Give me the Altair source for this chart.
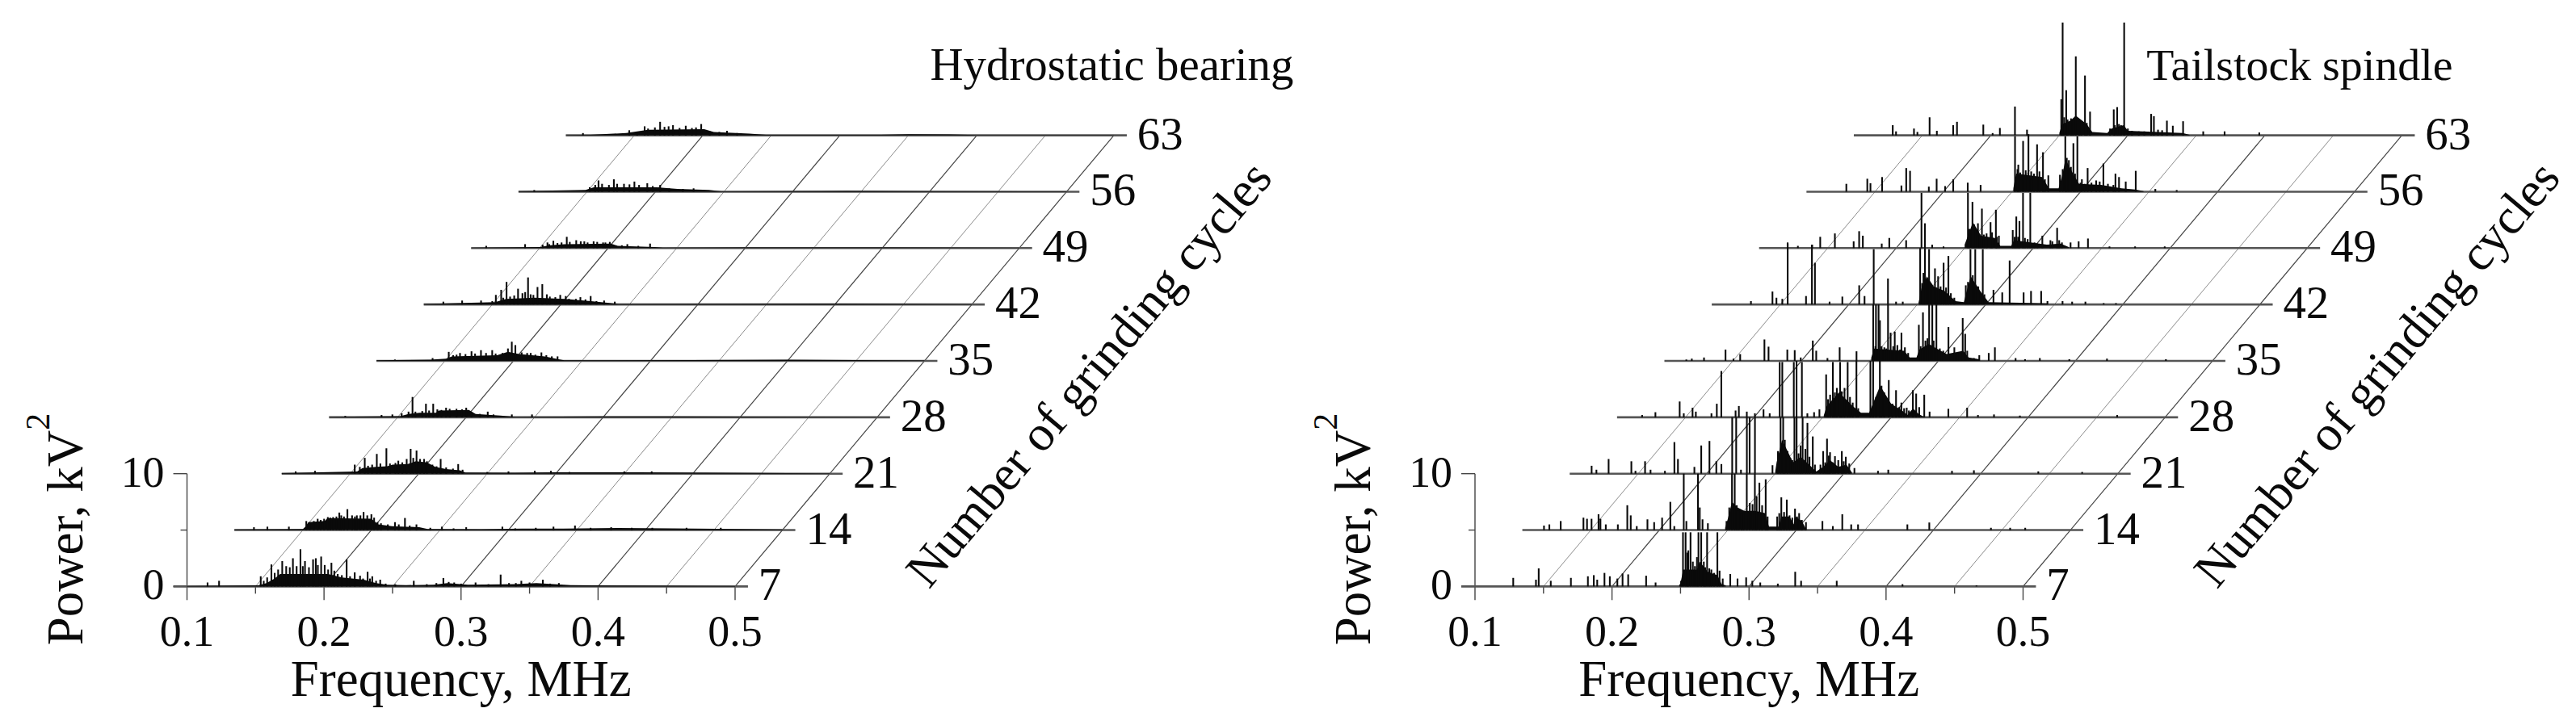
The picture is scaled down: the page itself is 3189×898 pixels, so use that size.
import altair as alt
import pandas as pd

CYCLES = [7, 14, 21, 28, 35, 42, 49, 56, 63]
F_TICKS = [0.1, 0.2, 0.3, 0.4, 0.5]
F_GRID = [0.15, 0.2, 0.25, 0.3, 0.35, 0.4, 0.45, 0.5]
P_TICKS = [0, 10]

# ---- Hydrostatic bearing: spikes (kHz, kV^2) per cycle ----
H_SPIKES = {
7: [(115,.35),(123.4,.5),(153.8,.9),(161.6,1.95),(169.5,2.25),(172.4,1.8),(177.3,2.5),(182.8,3.3),(186.1,2.25),(192,2.4),(194,2.5),(197.9,2.65),(200.5,1.9),(205.4,2.1),(216.5,2.4),(222.4,1.25),(226.3,.95),(231.8,1.3),(235.2,.9),(241,.6),(265.5,.5),(287.1,.75),(291,.4),(310.6,.35),(328.9,1.05),(344,.5),(359.7,.6),(371.4,.3)],
14: [(114.3,.25),(124.1,.3),(139.8,.3),(152.5,.8),(160.8,1),(168.2,1.15),(172.1,1.15),(176.6,1.55),(182.5,1.85),(185.9,1.3),(189.4,1.3),(194.3,1.6),(200,1.4),(204.5,.7),(217.2,.7),(224.5,1.07),(232.9,.5),(251.5,.3),(269.2,.25),(295.6,.3),(332.9,.3),(348.6,.4)],
21: [(110.2,.2),(124.3,.25),(153.3,.8),(160.6,1.4),(169.4,1.75),(176.4,2.25),(185.1,1.15),(191.2,1.3),(194.1,2.2),(198.4,2.05),(203.9,1.3),(216,1.3),(228.8,.85),(265.5,.2),(284.7,.25),(296.5,.25)],
28: [(111.8,.12),(138.3,.2),(146.2,.25),(153,.35),(160.9,1.8),(170.7,1.2),(176,1.2),(185.4,.85),(200.1,.85),(215.8,.5),(233.4,.25),(248.1,.25)],
35: [(113.5,.12),(141,.25),(152.8,.8),(161,.7),(169.4,.85),(176.3,.95),(184.5,.95),(198.8,1.7),(201.4,1.4),(212.6,.7),(220.4,.75),(232.2,.4)],
42: [(114.3,.25),(128,.35),(141.8,.35),(152.6,.85),(156.5,1.3),(160.4,2),(168.8,1.4),(176.1,2.4),(183,1.55),(186.5,1.8),(189.8,.9),(199.6,.85),(203.6,.75),(214.3,.65),(221.8,.75),(231.6,.35),(239.4,.25)],
49: [(111,.2),(139.4,.35),(152.2,.3),(155.7,.5),(160,.65),(169.8,1),(176.7,.7),(182.6,.6),(189.4,.6),(196.3,.5),(201.2,.55),(214,.35),(230.6,.4)],
56: [(111.5,.15),(158.4,1),(169.6,1.1),(184.6,.9),(194,.75),(203.4,.6),(227.8,.3)],
63: [(112.5,.2),(146.3,.45),(157.5,.8),(168.8,1.2),(178.2,.9),(187.5,.85),(198.8,1),(217.6,.4)],
}
# ---- Hydrostatic bearing: lower comb between the main spikes ----
H_COMB = {
7: [(156,.5),(158.5,.8),(164,1.2),(166.5,1.5),(175,1.7),(180,1.8),(184.5,1.8),(189,1.7),(195.5,1.9),(203,1.5),(207.5,1.4),(210,1.1),(213,1.0),(219,.9),(228.5,.7),(233.5,.7),(238,.5),(245,.25),(252,.2),(275,.2),(282,.3),(295,.35),(300,.25),(320,.2),(335,.3),(340,.3),(350,.35),(365,.25)],
14: [(155,.7),(158,.8),(163,.9),(165.5,1.0),(170,1.1),(174.5,1.2),(178,1.3),(180,1.2),(188,1.2),(192,1.3),(197,1.3),(202,1.1),(207,.6),(212,.5),(220,.5),(228,.4),(243,.2),(260,.15),(305,.15),(320,.2),(360,.2),(375,.25),(390,.2),(405,.2),(430,.2),(455,.2)],
21: [(157,.6),(163,.7),(166,.8),(172,.9),(179,.9),(183,.95),(188,1),(196,1.4),(201,1.3),(206,1.1),(210,.8),(213,.65),(220,.55),(225,.45),(232,.35),(250,.15),(310,.15),(350,.2),(370,.2)],
28: [(158,.5),(163,.5),(168,.55),(173,.6),(179,.7),(182,.65),(188,.75),(193,.75),(197,.7),(204,.45),(210,.3),(220,.25)],
35: [(156,.5),(158.5,.55),(165,.6),(172,.65),(180,.7),(187,.65),(192,.7),(196,1.1),(206,.75),(210,.7),(216,.55),(224,.5),(228,.4)],
42: [(150,.3),(158,.6),(163,.7),(166,.8),(172,1.0),(174,1.1),(178,.9),(180,.85),(192,.7),(196,.65),(206,.5),(211,.5),(218,.45),(226,.3)],
49: [(157,.35),(163,.45),(166,.5),(172,.55),(180,.6),(185,.5),(192,.55),(198,.5),(210,.25),(222,.2)],
56: [(152,.4),(156,.6),(161,.7),(166,.6),(172,.7),(177,.7),(181,.65),(188,.6),(198,.5),(210,.3),(220,.25)],
63: [(152,.3),(160,.6),(165,.7),(172,.75),(175,.8),(183,.65),(192,.65),(195,.7),(205,.35),(212,.3),(225,.2)],
}
# ---- Hydrostatic bearing: dense envelope (kHz, kV^2) per cycle ----
H_BODY = {
7: [(100,.03),(152,.1),(158,.3),(164,.7),(168,1.1),(203,1.1),(213,.8),(229,.6),(238,.3),(246,.15),(260,.12),(280,.15),(290,.3),(305,.15),(340,.2),(355,.3),(380,.12),(420,.08),(500,.03)],
14: [(100,.05),(150,.1),(152,.3),(154,.7),(166,.8),(168,1.05),(200,1),(205,.5),(215,.35),(235,.25),(241,.1),(280,.08),(310,.12),(340,.12),(380,.18),(420,.15),(470,.1),(500,.05)],
21: [(100,.05),(155,.2),(159,.5),(169,.6),(177,.65),(181,.8),(192,.85),(198,1.1),(206,1),(212,.6),(220,.4),(230,.3),(234,.1),(270,.08),(300,.12),(360,.12),(420,.08),(500,.03)],
28: [(100,.04),(152,.1),(158,.3),(166,.4),(178,.4),(180,.6),(202,.65),(207,.3),(225,.15),(236,.05),(300,.08),(350,.08),(500,.03)],
35: [(100,.05),(139,.1),(151,.2),(155,.4),(188,.5),(196,.8),(204,.6),(223,.4),(233,.15),(237,.05),(330,.08),(400,.1),(500,.03)],
42: [(100,.05),(152,.2),(160,.5),(181,.6),(203,.5),(222,.3),(234,.15),(242,.05),(330,.06),(400,.08),(500,.03)],
49: [(100,.03),(150,.1),(158,.25),(168,.35),(202,.4),(207,.2),(234,.1),(240,.03),(300,.05),(400,.06),(500,.03)],
56: [(100,.05),(149,.15),(155,.4),(201,.4),(216,.25),(239,.15),(248,.03),(280,.05),(340,.08),(400,.06),(500,.03)],
63: [(100,.03),(118,.05),(144,.2),(160,.5),(201,.55),(208,.3),(234,.15),(246,.05),(330,.05),(350,.1),(380,.08),(400,.03),(500,.02)],
}

# ---- Tailstock spindle: spikes (kHz, kV^2) per cycle ----
T_SPIKES = {
7: [(127.9,.76),(144.5,.6),(146.5,1.6),(155.3,.5),(170,.76),(182.4,.9),(186.7,1),(189.2,.6),(194.5,1.2),(198.4,.9),(203.9,.7),(207.7,1.15),(211.8,1.07),(224.9,.95),(231.8,.35),(250.4,.5),(251.8,4.8),(253.7,4.8),(257.3,4.8),(263.1,4.8),(265.1,4.8),(269.4,4.8),(276.9,4.8),(280.8,.7),(286.3,1.1),(291.6,.7),(297.9,.8),(302.4,.5),(308.2,.35),(321,.25),(333.7,1.3),(338,.5),(364,.5),(412,.2),(466,.1)],
14: [(115.8,.4),(119.7,.5),(128,.8),(144.6,1.1),(147.2,1),(150.5,1),(155.6,1.4),(157,1),(160.9,.5),(169.7,.5),(176.6,2.2),(179.1,1.3),(183.5,.35),(191.3,.95),(196.2,.7),(202,1.1),(208,2.5),(210.9,.35),(217.8,5),(219.7,.8),(228.2,5),(229.5,2),(231.5,.95),(235.4,.6),(249,.8),(253,5),(255,5),(263.8,5),(269.7,5),(273,4.2),(277.6,4.5),(286,1.2),(289,2.9),(293,2.7),(299,1.9),(302,1.5),(307,.7),(319,.8),(326.6,.35),(333.5,1.4),(340,.5),(345,.5),(381,.5),(397,.67),(442,.2),(456,.2),(467,.2)],
21: [(116,.7),(119.5,.35),(128.4,1.3),(145,1.1),(148,.25),(155,1.1),(159,.35),(169.5,.25),(176.4,2.8),(179,1.3),(191,.6),(196,2.5),(202,2.9),(207,1.1),(210.7,.85),(218.6,5),(221.5,5),(225,.35),(229.3,5),(231.3,5),(235.2,5),(248,.75),(253.9,5),(255.8,5),(264,5),(265.6,5),(270,5),(273.5,4.5),(277.4,3.3),(285,2),(287.8,3.1),(290,1.9),(293.6,1.55),(298.6,2),(301.5,1.5),(307.8,.5),(325,.25),(332.5,.35),(379,.25),(395,.3),(442,.2),(474,.15)],
28: [(118.3,.2),(128,.45),(145.7,1.4),(148.7,.35),(155.1,.85),(157.5,.5),(168.9,.35),(172.8,1.2),(176.1,4.1),(186.5,.6),(188.9,1),(194.7,.5),(200.6,.35),(206.9,.7),(211.4,.35),(218.7,4.9),(220.6,4.9),(229,4.9),(231,5),(234.9,4.9),(238.9,.35),(243.8,.45),(247.7,.7),(252.6,3.8),(257.5,4.9),(260.4,2.6),(262.8,4.9),(268.3,4.9),(274.7,5),(284.9,5),(286.9,5),(291.8,5),(298.3,3.3),(303.6,2.4),(307.5,1.3),(311.4,.85),(315.9,2.4),(318.3,2.1),(324.2,2),(328.1,.5),(341.8,.75),(355.5,.85),(363.4,.2),(375.1,.25),(394,.15),(465,.2)],
35: [(116,.12),(120,.2),(128.9,.3),(144.6,1),(150.4,.2),(155.3,.6),(173,1.9),(176,1.26),(189.7,1),(195.1,.95),(199.5,.3),(208.3,1.8),(210.8,.9),(219,.25),(227.9,1.2),(240.2,.85),(252.4,5),(254.4,5),(256.3,5),(257.3,3.6),(263.2,5),(265.1,2.5),(268.1,2.6),(273,2.5),(277.9,.7),(285.7,3.2),(288.7,4.3),(293.2,5),(295.5,5),(298.5,5),(307.3,3),(311.6,1.2),(317.7,3.8),(319.5,2.4),(325.9,.25),(329.8,.5),(336.7,.7),(341.2,1.2),(356.3,.25),(363.2,.15),(374,.25),(395.5,.15),(423,.2),(466,.15)],
42: [(128.6,.3),(144.3,1.15),(147.2,.6),(151.5,.5),(155.4,5.4),(168.8,.75),(173.1,5.3),(175.3,3.7),(186,.25),(195.3,.7),(207.6,1.7),(211.5,.75),(218.2,4.9),(228.6,2.3),(234.5,.25),(239.4,.25),(252.1,5),(255.6,5),(258.6,4.9),(262.9,3.2),(265.2,2.5),(269.2,3.7),(272.7,4.3),(277,.6),(285.4,1.7),(288.8,4.9),(292.3,4.9),(297.8,4.9),(305.6,1.3),(312,1.07),(317.4,3.9),(327.6,1.07),(333,1.2),(340.4,1.2),(345,.3),(356,.3),(363,.25),(372.7,.25),(386,.12),(395,.12)],
49: [(120.8,.5),(128.3,.2),(138.7,.3),(144.6,1),(155.3,1.3),(169,.6),(173,1.5),(175.7,1.1),(189.5,.4),(195,.9),(207.3,.7),(218.5,4.9),(221,2.2),(226.3,.3),(234.6,.15),(252.4,4.9),(255.7,4.1),(259.7,2.2),(262.6,3.5),(268.9,2.3),(272.8,3.4),(275,1.1),(285.1,1.6),(287.7,2.8),(290,2.4),(292.6,4.9),(297.9,4.9),(306.7,1.1),(312.6,.7),(317.5,1.8),(327.3,.5),(333.2,.6),(340,.85),(355.7,.15),(374.4,.15),(396,.15)],
56: [(129.1,.7),(144.4,1.15),(146.7,.75),(155.2,1.3),(169.3,.55),(172.8,2.1),(175.6,1.85),(189.3,.45),(195,1.15),(201.2,.5),(207.1,1.1),(217.7,.8),(227.1,.6),(252.2,4.9),(254.6,2.4),(258.1,4.5),(262,5.1),(268.3,4.2),(272.6,3.5),(276.5,1.45),(285,1.5),(288.9,4.9),(294.8,4.3),(297.7,4.9),(301,1.1),(305.2,2.1),(311.4,1),(316.7,2.5),(325.5,1.6),(328.1,1.3),(333,.9),(340.3,1.85),(354.6,.25),(370.2,.15)],
63: [(128.4,.9),(130.8,.35),(143.9,.6),(146.4,.3),(155.3,1.6),(160.6,.4),(172.5,.9),(175.3,1.2),(194.5,.95),(201.3,.2),(206.6,.65),(217.6,2.55),(226.4,.5),(251.4,3.2),(252.4,10),(255,4),(262,7),(268.7,5.3),(272.4,2.1),(289.7,2.3),(292.2,2.5),(297.3,10),(317,1.9),(319,1.7),(328.5,1.3),(332.8,.85),(340.3,1.25),(355,.35),(370.6,.35),(395.9,.25)],
}
# ---- Tailstock spindle: lower comb between the main spikes ----
T_COMB = {
7: [(255,3.0),(255.7,3.2),(259,2.2),(260.5,1.8),(262,2.6),(267,2.2),(268,1.7),(271,1.6),(272.5,1.5),(274.5,1.2),(278.5,1.4)],
14: [(251,2),(256.5,2.2),(258,1.7),(260,1.5),(261.5,1.6),(266,2.4),(268,2.3),(271,3),(275,2.2),(279,1.2),(287.5,1.5),(291,1.6),(295,1.3),(297,1.1),(300.5,1.2),(304,.9)],
21: [(252,2),(257,3),(259,2),(261,1.4),(262.5,1.2),(267,1.8),(268.5,2.5),(272,2.2),(275,1.5),(279,.8),(283,.8),(286.5,1),(289,1.6),(292,1),(296,1.2),(300,1.1),(304,.9)],
28: [(254,1.6),(255.5,2),(259,2.2),(264,2.3),(266,2.6),(270,1.8),(272,1.3),(276,.8),(289,1.8),(293,2.8),(295,2.2),(301,1.2),(306,.9),(309.5,.8),(313,.6),(320.5,.9)],
35: [(254,1.3),(258.5,1.3),(260.5,1.2),(262,1.1),(267,1.3),(270,1.4),(272,1),(275.5,1.2),(287,1.3),(290.5,1.8),(292,2),(296.5,1.8),(301,1.1),(303.5,.9),(314,.7),(321,.9)],
42: [(253.5,1.9),(254.5,2.8),(257,2.2),(260,1.8),(264,1.5),(267,1.6),(271,1.5),(274.5,1),(287,2),(290.5,2.6),(294.5,1.6),(299,.9)],
49: [(253.5,1.7),(257,2.1),(258,1.6),(261,1.2),(264,1.2),(266,1.3),(270,1.4),(273.5,1),(286.5,1),(289,1),(294,.9),(296,.8),(301,.5),(303,.4),(314,.6),(319,.7),(321,.5)],
56: [(254,2),(256,1.7),(260,1.9),(264,1.8),(266,1.6),(270,1.8),(274,1.1),(287,2),(290,3),(291.5,2.8),(293,2.2),(296,1.6),(300,.8),(303,.7),(308,.8),(314,.9),(320,.7),(324,.6)],
63: [(253.5,1.6),(256,1.4),(258.5,1.5),(260,1.4),(264.5,1.4),(266,1.2),(270,1.1),(287,.6),(290.5,.9),(293.5,1),(295,.9),(300,.6),(303,.4),(308,.35),(312,.35),(322,.5),(325,.45)],
}
# ---- Tailstock spindle: dense envelope (kHz, kV^2) per cycle ----
T_BODY = {
7: [(249,.1),(250,.3),(252,1.5),(262,1.5),(264,2.2),(270,1.3),(277,1),(280,.2),(283,.1)],
14: [(248,.2),(250,1),(253,2.5),(257,2),(262,1.7),(270,1.7),(277,1.5),(280,.3),(287,.3),(289,1.2),(295,1.2),(298,.5),(299,1.2),(304,.8),(307,.1)],
21: [(250,.2),(251,1),(255,3),(263,1),(268.6,1.5),(280,.2),(285,.6),(290,1.2),(296,.6),(302,.8),(306,.1)],
28: [(251,.2),(253,1),(262,2.2),(272,1),(278,.4),(284,.4),(286,1),(292,2.8),(300,1.2),(308,.6),(312,.2),(316,.8),(320,.3),(324,.05)],
35: [(251,.3),(253,1.1),(275,.9),(279,.3),(284,.3),(286,1),(293,1.5),(300,1),(306,.6),(318,.9),(322,.3),(330,.15)],
42: [(251,.2),(253,1.4),(257,2.5),(262,1.6),(270,1.2),(278,.3),(284,.2),(286,1.2),(289,2.5),(296,1.2),(302,.2),(325,.15),(345,.1)],
49: [(250,.3),(253,1.3),(256,2.3),(262,1.1),(272,.9),(276,.2),(284,.2),(286,.7),(298,.5),(310,.3),(320,.4),(326,.1)],
56: [(251,.3),(253,1.6),(272,1.3),(277,.3),(284,.3),(287,1.6),(289,2.9),(295,1.5),(299,.7),(315,.6),(330,.3),(340,.2),(346,.05)],
63: [(250,.2),(252,1),(258,1.3),(262,1.75),(270,1),(274,.3),(285,.2),(288,.6),(297,.9),(300,.4),(340,.2),(345,.05)],
}

MHZ_SHIFT_PER_ROW = 0.03456  # MHz of slant per 7 cycles
POWER_SHIFT_PER_ROW = 5.0    # kV^2 of rise per 7 cycles
FONT = "Liberation Serif"
INK = "#0a0a0a"
PX_PER_MHZ = 1700.0
PX_PER_KV = 14.0
LEFT_PX = 224.0
ZERO_PX = 719.0
HEIGHT = 882


def sx(f, cycle):
    return f + MHZ_SHIFT_PER_ROW * (cycle - 7) / 7


def sy(p, cycle):
    return p + POWER_SHIFT_PER_ROW * (cycle - 7) / 7


def panel(spikes, comb, body, title, title_x, title_size, width):
    xs = alt.Scale(domain=[0.1 - LEFT_PX / PX_PER_MHZ, 0.1 + (width - LEFT_PX) / PX_PER_MHZ])
    ys = alt.Scale(domain=[(ZERO_PX - HEIGHT) / PX_PER_KV, ZERO_PX / PX_PER_KV])
    X = alt.X("x:Q", scale=xs, axis=None)
    X2 = alt.X2("x2:Q")
    Y = alt.Y("y:Q", scale=ys, axis=None)
    Y2 = alt.Y2("y2:Q")

    grid = pd.DataFrame(
        [dict(x=sx(f, c), y=sy(0, c), g=f, major=round(f * 100) % 10 == 0)
         for f in F_GRID for c in (7, 63)]
    )
    minor_grid = alt.Chart(grid[~grid.major]).mark_line(color="#8c8c8c", strokeWidth=1).encode(x=X, y=Y, detail="g:Q")
    major_grid = alt.Chart(grid[grid.major]).mark_line(color="#444444", strokeWidth=1.2).encode(x=X, y=Y, detail="g:Q")

    rows = pd.DataFrame(
        [dict(x=sx(0.09 if c == 7 else 0.1, c), x2=sx(0.5094, c), y=sy(0, c)) for c in CYCLES]
    )
    row_lines = alt.Chart(rows).mark_rule(color="#555555", strokeWidth=2.6).encode(x=X, x2=X2, y=Y)

    body_rows = pd.DataFrame(
        [dict(x=sx(f / 1000, c), y=sy(p, c), y2=sy(0, c), c=c)
         for c in CYCLES for f, p in body[c]]
    )
    body_area = alt.Chart(body_rows).mark_area(color=INK, interpolate="linear", line=False).encode(
        x=X, y=Y, y2=Y2, detail="c:O"
    )

    spike_rows = pd.DataFrame(
        [dict(x=sx(f / 1000, c), y=sy(p, c), y2=sy(0, c))
         for c in CYCLES for f, p in spikes[c] + comb[c]]
    )
    spike_marks = alt.Chart(spike_rows).mark_rule(color=INK, strokeWidth=2.1).encode(x=X, y=Y, y2=Y2)

    # frequency axis
    ticks = pd.DataFrame(
        [dict(x=f / 100, y=-1.21 if f % 10 == 0 else -0.64, y2=0) for f in range(10, 55, 5)]
    )
    x_ticks = alt.Chart(ticks).mark_rule(color="#444444", strokeWidth=1.4).encode(x=X, y=Y, y2=Y2)
    x_labels = alt.Chart(pd.DataFrame({"x": F_TICKS, "y": [0] * 5, "t": [f"{f:.1f}" for f in F_TICKS]})).mark_text(
        font=FONT, fontSize=54, color=INK, baseline="middle", dy=58
    ).encode(x=X, y=Y, text="t:N")

    # power axis
    p_line = alt.Chart(pd.DataFrame({"x": [0.1], "y": [0], "y2": [10]})).mark_rule(color="#444444", strokeWidth=1.4).encode(x=X, y=Y, y2=Y2)
    p_ticks = pd.DataFrame({"x": [0.09, 0.0953, 0.09], "x2": [0.1, 0.1, 0.1], "y": [0, 5, 10]})
    p_tick_marks = alt.Chart(p_ticks).mark_rule(color="#444444", strokeWidth=1.4).encode(x=X, x2=X2, y=Y)
    p_labels = alt.Chart(pd.DataFrame({"x": [0.0835] * 2, "y": P_TICKS, "t": [str(p) for p in P_TICKS]})).mark_text(
        font=FONT, fontSize=54, color=INK, align="right", baseline="middle"
    ).encode(x=X, y=Y, text="t:N")

    # cycle labels
    cyc = pd.DataFrame([dict(x=sx(0.517, c), y=sy(0, c), t=str(c)) for c in CYCLES])
    cyc_labels = alt.Chart(cyc).mark_text(
        font=FONT, fontSize=57, color=INK, align="left", baseline="middle"
    ).encode(x=X, y=Y, text="t:N")

    def label(text, px, py, size, **kw):
        return alt.Chart(pd.DataFrame({"t": [text]})).mark_text(
            font=FONT, fontSize=size, color=INK, **kw
        ).encode(x=alt.value(px), y=alt.value(py), text="t:N")

    titles = [
        label("Frequency, MHz", 564, 855, 63, align="center", baseline="alphabetic"),
        label("Power, kV", 94, 792, 63, align="left", baseline="alphabetic", angle=270),
        label("2", 53, 525, 42, align="left", baseline="alphabetic", angle=270),
        label("Number of grinding cycles", 1344, 456, 62, align="center", baseline="middle", angle=310),
        label(title, title_x, 90, title_size, align="left", baseline="alphabetic"),
    ]

    return alt.layer(
        minor_grid, major_grid, x_ticks, p_line, p_tick_marks, row_lines,
        body_area, spike_marks, x_labels, p_labels, cyc_labels, *titles
    ).properties(width=width, height=HEIGHT)


left = panel(H_SPIKES, H_COMB, H_BODY, "Hydrostatic bearing", 1146, 57, 1594)
right = panel(T_SPIKES, T_COMB, T_BODY, "Tailstock spindle", 1057, 56, 1579)

chart = alt.hconcat(left, right, spacing=0).properties(
    padding=0, background="white"
).configure_view(stroke=None)

chart.save("out.html", embed_options={"renderer": "svg", "actions": False})
